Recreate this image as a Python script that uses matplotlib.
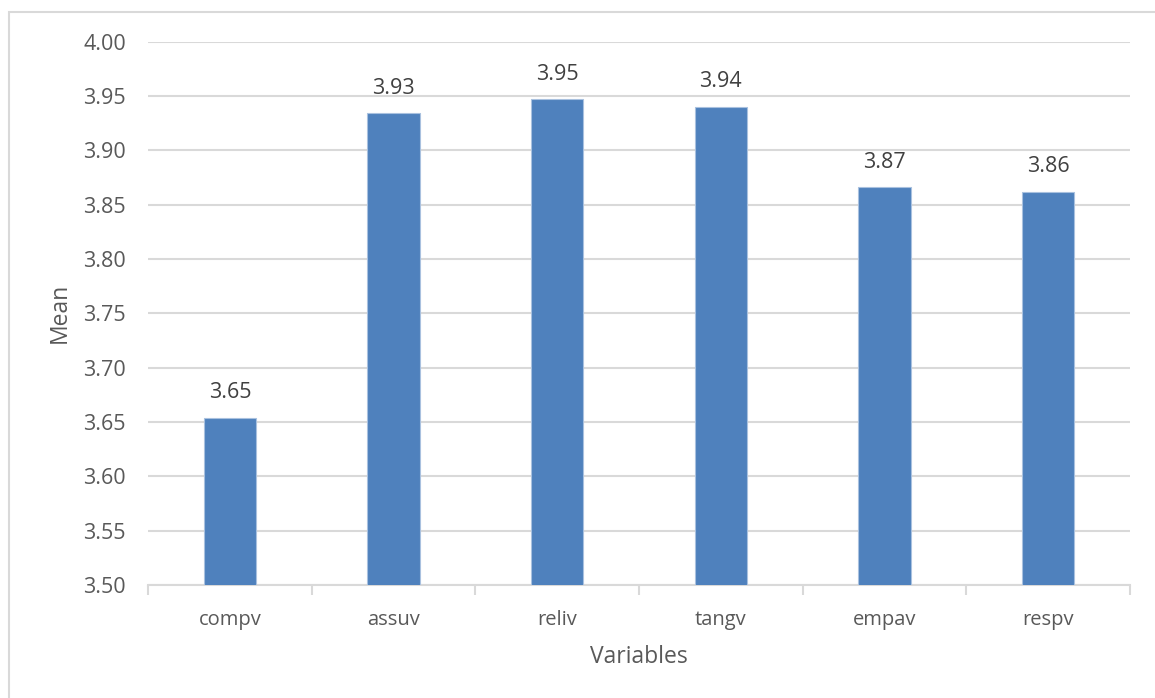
import matplotlib
matplotlib.use("Agg")
import matplotlib.pyplot as plt
from matplotlib.patches import Rectangle
import numpy as np

categories = ["compv", "assuv", "reliv", "tangv", "empav", "respv"]
means = [3.654, 3.934, 3.947, 3.940, 3.866, 3.862]
yticks = [3.50, 3.55, 3.60, 3.65, 3.70, 3.75, 3.80, 3.85, 3.90, 3.95, 4.00]

plt.rcParams['font.family'] = ['Open Sans', 'DejaVu Sans']
txt = '#595959'
grid = '#d9d9d9'

fig = plt.figure(figsize=(11.55, 6.98), dpi=100)
fig.patches.append(Rectangle((9/1155, -0.1), 1.2, (698-12)/698 + 0.1, transform=fig.transFigure,
                             fill=False, edgecolor='#d9d9d9', linewidth=1.5))
ax = fig.add_axes([148/1155, (698-585)/698, (1130-148)/1155, (585-41.5)/698])

x = np.arange(len(categories))
ax.bar(x, means, width=0.318, color='#4f81bd', edgecolor='#a9c1df', linewidth=0.8, zorder=3)
for xi, v in zip(x, means):
    ax.annotate(f"{v:.2f}", (xi, v), xytext=(0, 18), textcoords='offset points',
                ha='center', va='center', fontsize=15.5, color='#404040')

ax.set_xlim(-0.5, len(categories) - 0.5)
ax.set_ylim(3.5, 4.0)
ax.set_yticks(yticks)
ax.set_yticklabels([f"{t:.2f}" for t in yticks])
ax.set_xticks(x)
ax.set_xticklabels(categories)
ax.set_xticks(np.arange(-0.5, len(categories)), minor=True)
ax.tick_params(axis='x', which='major', length=0, pad=18, labelsize=14.5, labelcolor=txt)
ax.tick_params(axis='x', which='minor', length=7, width=1.5, color=grid, direction='out')
ax.tick_params(axis='y', length=0, pad=16, labelsize=15.5, labelcolor=txt)
ax.grid(axis='y', color=grid, linewidth=1.5, zorder=0)
ax.set_axisbelow(True)
for s in ['top', 'right', 'left']:
    ax.spines[s].set_visible(False)
ax.spines['bottom'].set_color(grid)
ax.spines['bottom'].set_linewidth(1.5)
ax.set_xlabel("Variables", fontsize=16.5, color=txt, va='center')
ax.xaxis.set_label_coords(0.5, (585 - 657) / 543.5)
ax.set_ylabel("Mean", fontsize=16.5, color=txt, va='center')
ax.yaxis.set_label_coords((60 - 148) / 982, 0.5)

fig.savefig("out.png", dpi=100)
